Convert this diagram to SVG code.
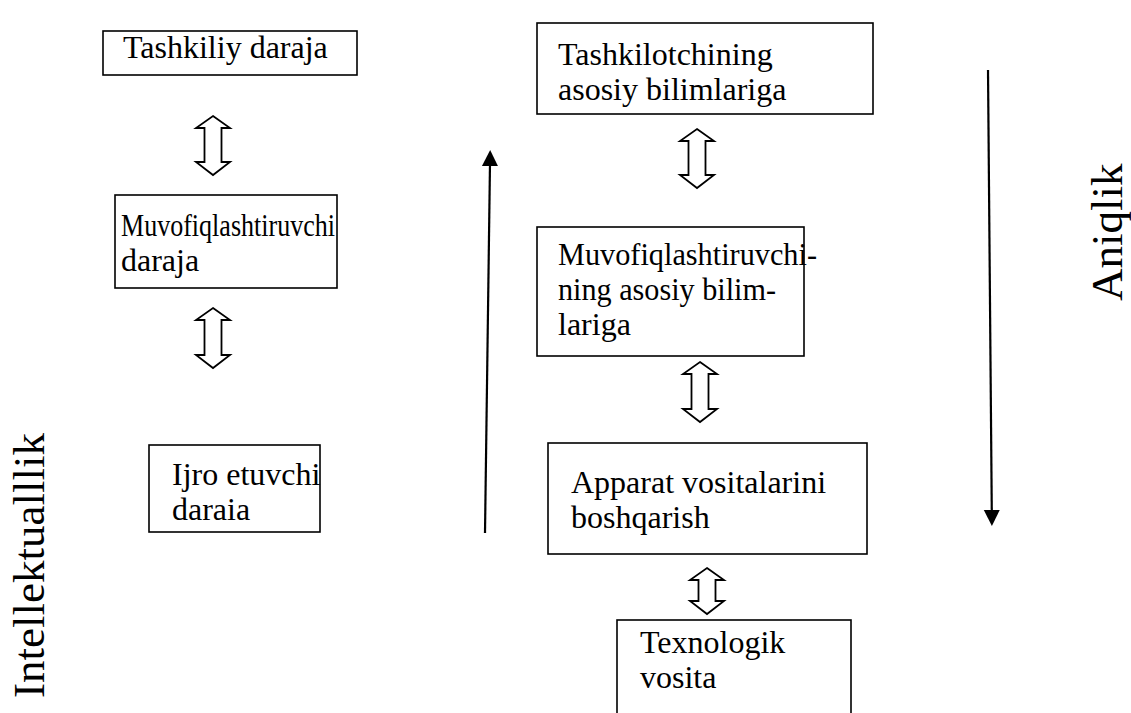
<svg xmlns="http://www.w3.org/2000/svg" width="1131" height="713" viewBox="0 0 1131 713">
  <style>
    .box { fill: #fff; stroke: #000; stroke-width: 1.6; }
    .lbl { font-size: 32px; fill: #000; }
    .side { font-size: 45px; fill: #000; }
    .dbl { fill: #fff; stroke: #000; stroke-width: 1.8; stroke-linejoin: miter; }
    .line { stroke: #000; stroke-width: 2.2; fill: none; }
  </style>
  <defs>
    <marker id="head" markerUnits="userSpaceOnUse" markerWidth="18" markerHeight="18" viewBox="0 0 18 18" refX="3" refY="9" orient="auto">
      <path d="M0,1 L16,9 L0,17 Z" fill="#000"/>
    </marker>
  </defs>

  <rect width="1131" height="713" fill="#fff"/>

  <g font-family="Liberation Serif, Times New Roman, DejaVu Serif, serif">
    <!-- left column -->
    <g id="tashkiliy">
      <rect class="box" x="103" y="31" width="254" height="44"/>
      <text class="lbl" x="123" y="58">Tashkiliy daraja</text>
    </g>
    <g id="muvofiq-daraja">
      <rect class="box" x="115" y="195" width="222" height="93"/>
      <text class="lbl" x="121" y="236" textLength="214" lengthAdjust="spacingAndGlyphs">Muvofiqlashtiruvchi</text>
      <text class="lbl" x="121" y="271">daraja</text>
    </g>
    <g id="ijro">
      <rect class="box" x="149" y="445" width="171" height="87"/>
      <text class="lbl" x="172" y="485">Ijro etuvchi</text>
      <text class="lbl" x="172" y="520">daraia</text>
    </g>

    <!-- right column -->
    <g id="tashkilotchi">
      <rect class="box" x="537" y="23" width="336" height="91"/>
      <text class="lbl" x="558" y="65">Tashkilotchining</text>
      <text class="lbl" x="558" y="100">asosiy bilimlariga</text>
    </g>
    <g id="muvofiq-bilim">
      <rect class="box" x="537" y="227" width="267" height="129"/>
      <text class="lbl" x="558" y="265" textLength="259" lengthAdjust="spacingAndGlyphs">Muvofiqlashtiruvchi-</text>
      <text class="lbl" x="558" y="300" textLength="218" lengthAdjust="spacingAndGlyphs">ning asosiy bilim-</text>
      <text class="lbl" x="558" y="335">lariga</text>
    </g>
    <g id="apparat">
      <rect class="box" x="548" y="443" width="319" height="111"/>
      <text class="lbl" x="571" y="493">Apparat vositalarini</text>
      <text class="lbl" x="571" y="528">boshqarish</text>
    </g>
    <g id="texnologik">
      <rect class="box" x="617" y="620" width="234" height="120"/>
      <text class="lbl" x="640" y="653">Texnologik</text>
      <text class="lbl" x="640" y="688">vosita</text>
    </g>

    <!-- side captions -->
    <g id="intellektuallik">
      <text class="side" transform="translate(44,698) rotate(-90)">Intellektualllik</text>
    </g>
    <g id="aniqlik">
      <text class="side" transform="translate(1122,301) rotate(-90)" font-size="43">Aniqlik</text>
    </g>
  </g>

  <!-- connectors -->
  <g id="connectors">
    <polygon class="dbl" points="213,116 230,128 221.5,128 221.5,162 230,162 213,175 196,162 204.5,162 204.5,128 196,128"/>
    <polygon class="dbl" points="213,308 230,320 221.5,320 221.5,355 230,355 213,368 196,355 204.5,355 204.5,320 196,320"/>
    <polygon class="dbl" points="697,129 714,141 705.5,141 705.5,175 714,175 697,188 680,175 688.5,175 688.5,141 680,141"/>
    <polygon class="dbl" points="700,362 717,374 708.5,374 708.5,409 717,409 700,422 683,409 691.5,409 691.5,374 683,374"/>
    <polygon class="dbl" points="707,568 724,580 715.5,580 715.5,601 724,601 707,614 690,601 698.5,601 698.5,580 690,580"/>
    <line class="line" x1="485" y1="533" x2="490" y2="163" marker-end="url(#head)"/>
    <line class="line" x1="988" y1="70" x2="991.8" y2="513" marker-end="url(#head)"/>
  </g>
</svg>
